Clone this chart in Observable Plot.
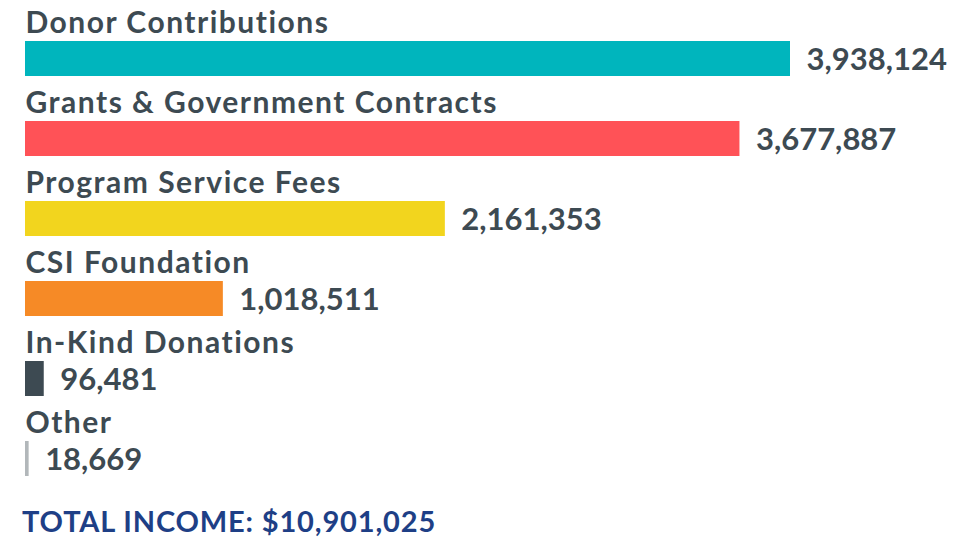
<!DOCTYPE html>
<html>
<head>
<meta charset="utf-8">
<script src="https://cdn.jsdelivr.net/npm/d3@7"></script>
<script src="https://cdn.jsdelivr.net/npm/@observablehq/plot@0.6"></script>
<style>
  html, body { margin: 0; padding: 0; background: #ffffff; }
  #chart { width: 973px; }
  #total { font-family: Lato, "Open Sans", sans-serif; font-weight: 700; font-size: 29px; letter-spacing: 0.85px; color: #1E3F86; margin: 25px 0 0 22px; line-height: 32px; }
</style>
</head>
<body>
<div id="chart"></div>
<div id="total"></div>
<script>
const categories = ["Donor Contributions", "Grants & Government Contracts", "Program Service Fees", "CSI Foundation", "In-Kind Donations", "Other"];
const values = [3938124, 3677887, 2161353, 1018511, 96481, 18669];
const colors = ["#00B5BD", "#FF5257", "#F2D51E", "#F68A26", "#3D4A52", "#B2B7BA"];
const totalLabel = "TOTAL INCOME: $10,901,025";

const data = categories.map((c, i) => ({category: c, value: values[i]}));
const fmt = d3.format(",");
const ink = "#3D4A52";

const chart = Plot.plot({
  width: 973,
  height: 480,
  marginLeft: 25,
  marginRight: 183,
  marginTop: 0,
  marginBottom: 0,
  style: {fontFamily: "Lato, 'Open Sans', sans-serif", background: "#ffffff"},
  x: {domain: [0, d3.max(values)], axis: null},
  y: {domain: categories, axis: null, padding: 0},
  color: {domain: categories, range: colors},
  marks: [
    Plot.barX(data, {x: "value", y: "category", fill: "category", insetTop: 41, insetBottom: 4}),
    Plot.text(data, {x: 0, y: "category", text: "category", textAnchor: "start", dy: -17, fontSize: 30, fontWeight: 700, fill: ink}),
    Plot.text(data, {x: "value", y: "category", text: d => fmt(d.value), textAnchor: "start", dx: 16, dy: 20, fontSize: 31, fontWeight: 700, fill: ink})
  ]
});
const textGroups = chart.querySelectorAll('g[aria-label="text"]');
if (textGroups.length) textGroups[0].style.letterSpacing = "1.5px";
document.getElementById("chart").appendChild(chart);
document.getElementById("total").textContent = totalLabel;
</script>
</body>
</html>
